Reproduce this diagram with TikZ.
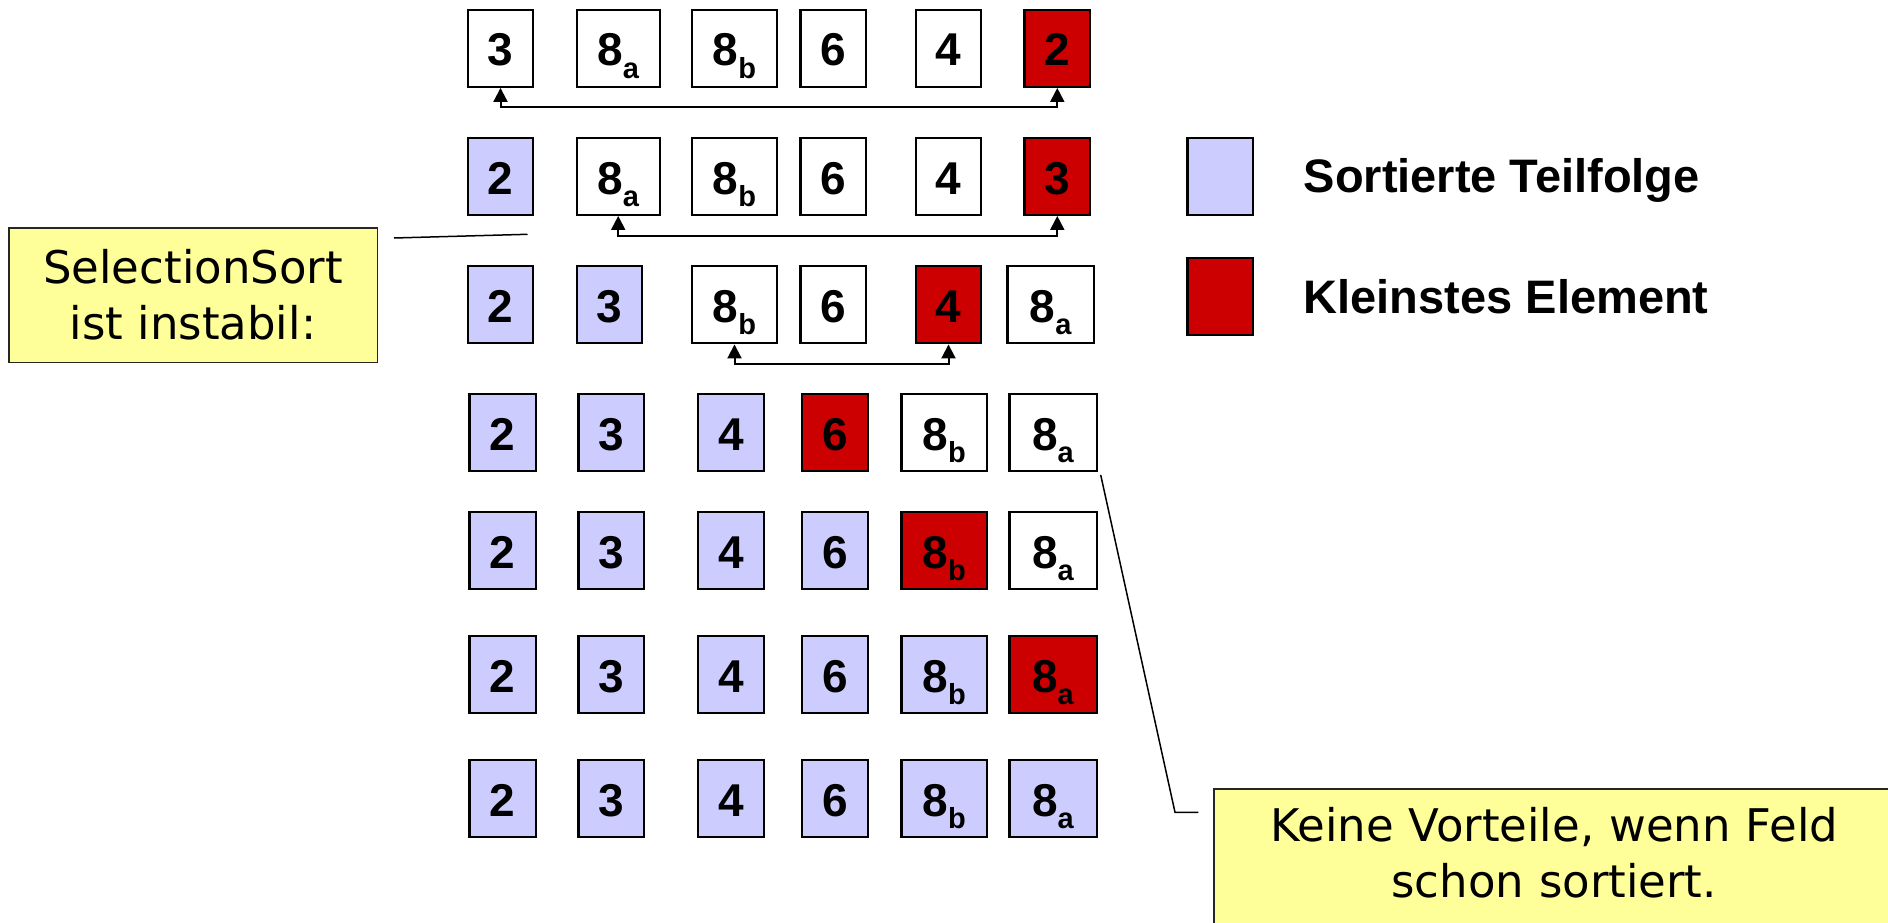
\documentclass[tikz,border=0pt]{standalone}
\usepackage{fontspec}
\setmainfont{Liberation Sans}
\newfontfamily\callfont{DejaVu Sans}
\usetikzlibrary{arrows.meta,calc}
\definecolor{sortblue}{HTML}{CCCCFF}
\definecolor{minred}{HTML}{CC0000}
\definecolor{noteyellow}{HTML}{FFFF99}
\newcommand{\ei}[1]{8\raisebox{-12.3pt}{\fontsize{29}{29}\selectfont #1}}
\tikzset{
  cell/.style={draw=black, line width=2.2pt, inner sep=0pt, minimum height=77.1pt,
    text height=35.4pt, text depth=0pt, font=\fontsize{46}{46}\selectfont\bfseries},
  wcell/.style={cell, fill=white},
  bcell/.style={cell, fill=sortblue},
  rcell/.style={cell, fill=minred},
  swaparrow/.style={line width=2pt, {Triangle[length=14pt,width=14pt]}-{Triangle[length=14pt,width=14pt]}},
  note/.style={draw=black!85, line width=1.5pt, fill=noteyellow,
    font=\callfont\fontsize{45}{56}\selectfont, align=center},
  pointer/.style={line width=1.5pt},
  legendtext/.style={anchor=base west, inner sep=0pt, font=\fontsize{47}{47}\selectfont\bfseries},
}
\begin{document}
\begin{tikzpicture}[x=1pt,y=-1pt]
\useasboundingbox (0,0) rectangle (1888,923);
\fill[white] (0,0) rectangle (1888,923);
\clip (0,0) rectangle (1888,923);

% Row 1
\node[wcell, minimum width=65.4pt] (r1c1) at (500.5,48.3) {3};
\node[wcell, minimum width=82.8pt] (r1c2) at (618.2,48.3) {\ei{a}};
\node[wcell, minimum width=85.4pt] (r1c3) at (734.5,48.3) {\ei{b}};
\node[wcell, minimum width=65.8pt] (r1c4) at (833.3,48.3) {6};
\node[wcell, minimum width=65.4pt] (r1c5) at (948.5,48.3) {4};
\node[rcell, minimum width=65.8pt] (r1c6) at (1057.3,48.3) {2};
% Row 2
\node[bcell, minimum width=65.4pt] (r2c1) at (500.5,176.3) {2};
\node[wcell, minimum width=82.8pt] (r2c2) at (618.2,176.3) {\ei{a}};
\node[wcell, minimum width=85.4pt] (r2c3) at (734.5,176.3) {\ei{b}};
\node[wcell, minimum width=65.8pt] (r2c4) at (833.3,176.3) {6};
\node[wcell, minimum width=65.4pt] (r2c5) at (948.5,176.3) {4};
\node[rcell, minimum width=65.8pt] (r2c6) at (1057.3,176.3) {3};
% Row 3
\node[bcell, minimum width=65.4pt] (r3c1) at (500.5,304.8) {2};
\node[bcell, minimum width=65.4pt] (r3c2) at (609.5,304.8) {3};
\node[wcell, minimum width=85.4pt] (r3c3) at (734.5,304.8) {\ei{b}};
\node[wcell, minimum width=65.8pt] (r3c4) at (833.3,304.8) {6};
\node[rcell, minimum width=65.4pt] (r3c5) at (948.5,304.8) {4};
\node[wcell, minimum width=86.5pt] (r3c6) at (1050.7,304.8) {\ei{a}};
% Row 4
\node[bcell, minimum width=66.2pt] (r4c1) at (502.5,432.3) {2};
\node[bcell, minimum width=65.8pt] (r4c2) at (611.3,432.3) {3};
\node[bcell, minimum width=66.1pt] (r4c3) at (730.8,432.3) {4};
\node[rcell, minimum width=66.1pt] (r4c4) at (835.2,432.3) {6};
\node[wcell, minimum width=85.5pt] (r4c5) at (944.2,432.3) {\ei{b}};
\node[wcell, minimum width=87.2pt] (r4c6) at (1053,432.3) {\ei{a}};
% Row 5
\node[bcell, minimum width=66.2pt] (r5c1) at (502.5,550.3) {2};
\node[bcell, minimum width=65.8pt] (r5c2) at (611.3,550.3) {3};
\node[bcell, minimum width=66.1pt] (r5c3) at (730.8,550.3) {4};
\node[bcell, minimum width=66.1pt] (r5c4) at (835.2,550.3) {6};
\node[rcell, minimum width=85.5pt] (r5c5) at (944.2,550.3) {\ei{b}};
\node[wcell, minimum width=87.2pt] (r5c6) at (1053,550.3) {\ei{a}};
% Row 6
\node[bcell, minimum width=66.2pt] (r6c1) at (502.5,674.5) {2};
\node[bcell, minimum width=65.8pt] (r6c2) at (611.3,674.5) {3};
\node[bcell, minimum width=66.1pt] (r6c3) at (730.8,674.5) {4};
\node[bcell, minimum width=66.1pt] (r6c4) at (835.2,674.5) {6};
\node[bcell, minimum width=85.5pt] (r6c5) at (944.2,674.5) {\ei{b}};
\node[rcell, minimum width=87.2pt] (r6c6) at (1053,674.5) {\ei{a}};
% Row 7
\node[bcell, minimum width=66.2pt] (r7c1) at (502.5,798.5) {2};
\node[bcell, minimum width=65.8pt] (r7c2) at (611.3,798.5) {3};
\node[bcell, minimum width=66.1pt] (r7c3) at (730.8,798.5) {4};
\node[bcell, minimum width=66.1pt] (r7c4) at (835.2,798.5) {6};
\node[bcell, minimum width=85.5pt] (r7c5) at (944.2,798.5) {\ei{b}};
\node[bcell, minimum width=87.2pt] (r7c6) at (1053,798.5) {\ei{a}};

% swap arrows
\draw[swaparrow] (r1c1.south) -- ++(0,19.5) -| (r1c6.south);
\draw[swaparrow] (r2c2.south) -- ++(0,20) -| (r2c6.south);
\draw[swaparrow] (r3c3.south) -- ++(0,20) -| (r3c5.south);

% legend
\node[bcell, minimum width=65.8pt] (lg1) at (1220.3,176.3) {};
\node[rcell, minimum width=65.8pt] (lg2) at (1220.3,296.3) {};
\node[legendtext] (lt1) at (1303.5,192.7) {Sortierte Teilfolge};
\node[legendtext] (lt2) at (1303.5,313.3) {Kleinstes Element};

% callouts
\node[note, minimum width=368.5pt, minimum height=134.5pt] (n1) at (193,295) {SelectionSort\\ist instabil:};
\node[note, anchor=north west, text width=660pt, inner xsep=10pt, inner ysep=18.7pt,
  text height=34.2pt, text depth=110pt] (n2) at (1213.3,788.3) {Keine Vorteile, wenn Feld\\schon sortiert.};

% pointer lines
\coordinate (s1) at (394,238);
\coordinate (s2) at (527.5,234.3);
\draw[pointer] (s1) -- (s2);
\coordinate (k1) at ($(r4c6.south east)+(3,3)$);
\coordinate (k2) at (1175,812.3);
\coordinate (k3) at (1198.3,812.3);
\draw[pointer] (k1) -- (k2) -- (k3);
\end{tikzpicture}
\end{document}
